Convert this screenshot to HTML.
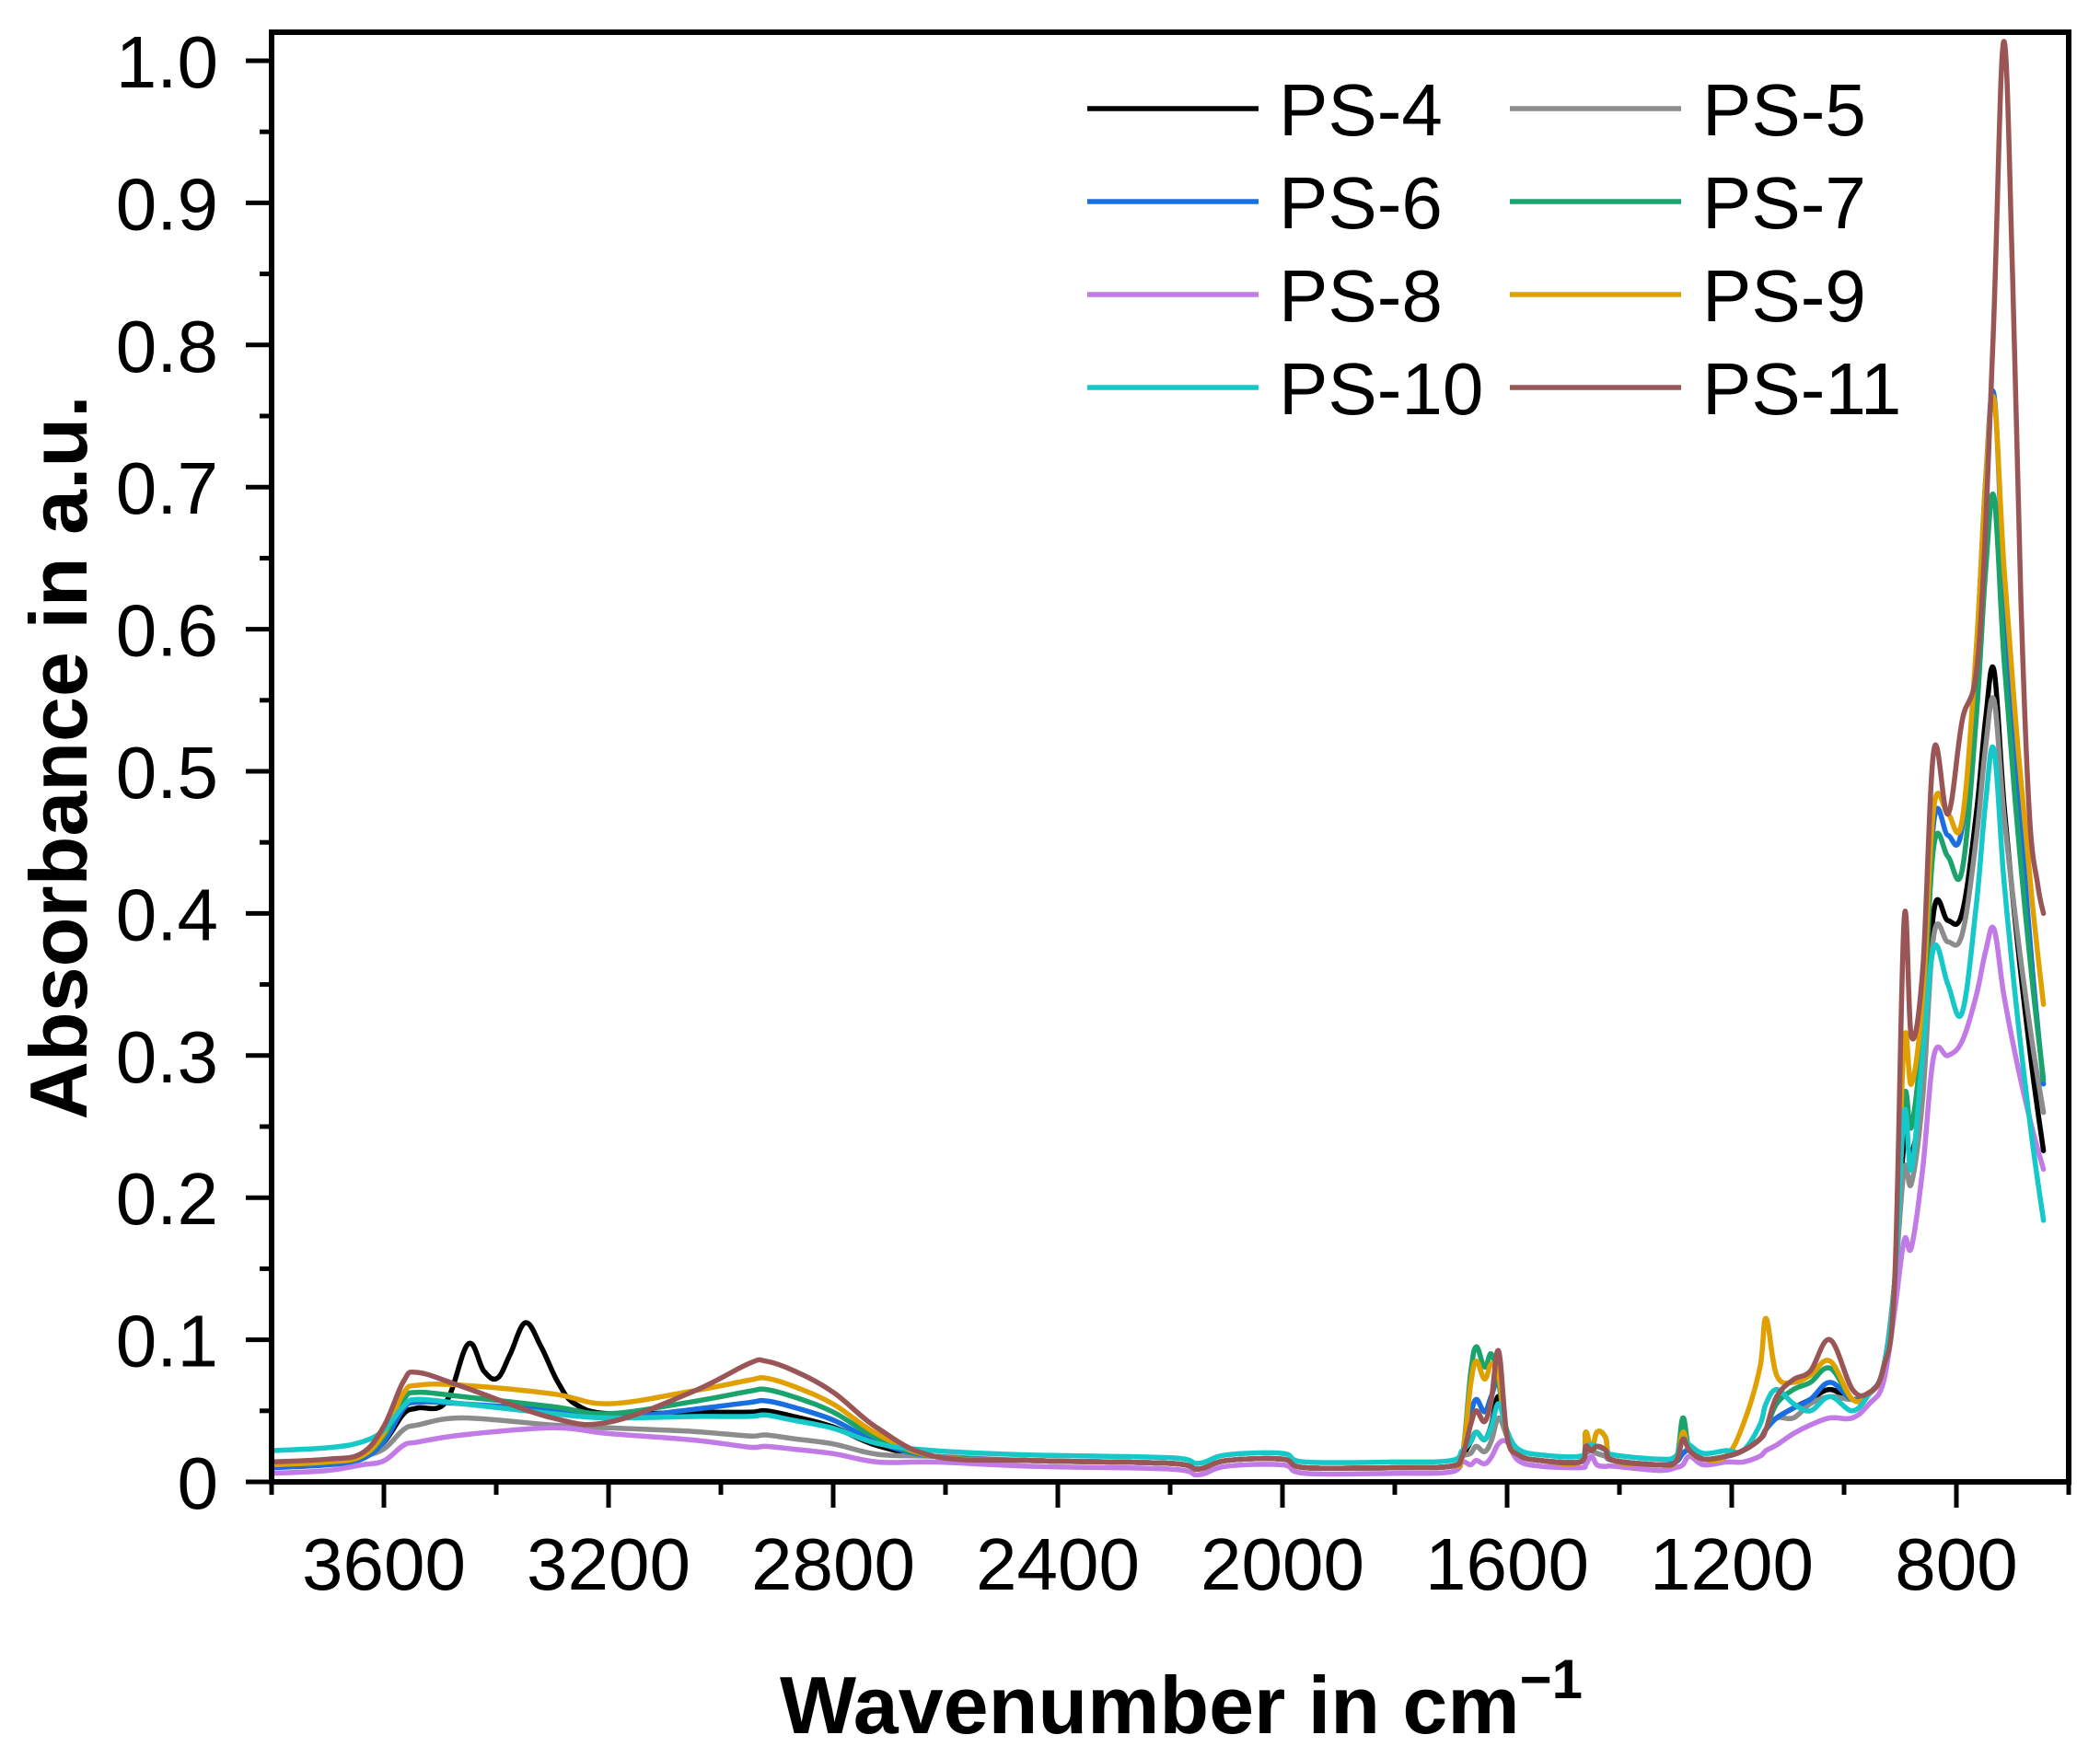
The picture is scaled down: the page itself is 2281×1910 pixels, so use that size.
<!DOCTYPE html>
<html><head><meta charset="utf-8"><style>
html,body{margin:0;padding:0;background:#fff;}
svg{display:block;}
text{font-family:"Liberation Sans",Arial,sans-serif;fill:#000;}
</style></head><body>
<svg id="c" width="2281" height="1910" viewBox="0 0 2281 1910" xmlns="http://www.w3.org/2000/svg">
<defs><clipPath id="pa"><rect x="295" y="35" width="1952" height="1575"/></clipPath></defs>
<g id="series" clip-path="url(#pa)" fill="none" stroke-width="5.5" stroke-linejoin="round" stroke-linecap="round"></g>
<g stroke="#000" stroke-width="6" fill="none">
<path d="M295 35 H2247 V1610 H295 Z"/>
</g>
<g id="ticks" stroke="#000" stroke-width="5"></g>
<g id="labels" font-size="80"></g>
<text x="1283" y="1883" font-size="88" font-weight="bold" text-anchor="middle">Wavenumber in cm<tspan font-size="60" dy="-38">−1</tspan></text>
<text transform="translate(94,823) rotate(-90)" font-size="88" font-weight="bold" text-anchor="middle">Absorbance in a.u.</text>
<g id="legend" font-size="80"></g>
</svg>
<script>
const NS="http://www.w3.org/2000/svg";
const X=v=>295+(3800-v)*0.61, Y=a=>1610-a*1544;
function el(t,a,p,txt){const e=document.createElementNS(NS,t);for(const k in a)e.setAttribute(k,a[k]);if(txt!==undefined)e.textContent=txt;p.appendChild(e);return e;}
const tk=document.getElementById('ticks'),lb=document.getElementById('labels');
for(let v=3800;v>=600;v-=200){const x=X(v);const maj=(v%400===0);el('line',{x1:x,y1:1610,x2:x,y2:1610+(maj?28:14)},tk);
 if(maj&&v<3800)el('text',{x:x,y:1727,'text-anchor':'middle'},lb,String(v));}
for(let i=0;i<=20;i++){const a=i*0.05;const y=Y(a);const maj=i%2===0;el('line',{x1:295,y1:y,x2:295-(maj?28:13),y2:y},tk);
 if(maj)el('text',{x:237,y:y+29,'text-anchor':'end'},lb,i===0?'0':(a).toFixed(1));}
const D={b:.012,mid:.012,oh:.055,oh3:.055,oh4:.05,oh2:.045,ch:.05,p1650:.03,p1615:.05,p1460:.02,p1260:.02,a1180:.022,a1150:.03,p1130:.037,a1120:.045,a1090:.052,a1060:.058,p1020:.065,d980:.058,d950:.062,d930:.08,d910:.14,sp:.27,dp:.24,a860:.3,p833:.42,p815:.41,p790:.42,pk:.65,end:.28};
function S(p){const o=Object.assign({},D,p),m=o.mid;
let pts=[[3800,o.b],[3700,o.b+.002],[3640,o.b+.006],[3600,o.b+(o.oh-o.b)*.4],[3565,o.oh*.92],[3540,o.oh],[3460,o.oh3],[3300,o.oh4],[3200,o.oh2],[3050,(o.oh2+o.ch)/2],[2950,o.ch*.98],[2920,o.ch],[2870,o.ch*.92],[2800,o.ch*.7+m*.3],[2720,m+(o.ch-m)*.35],[2620,m+.006],[2450,m+.003],[2200,m+.001],[2150,m-.003],[2100,m+.003],[2000,m+.004],[1960,m-.002],[1800,m-.002],[1700,m-.001],[1680,m+.006],[1665,o.p1650*.8],[1655,o.p1650],[1640,o.p1650*.85],[1628,o.p1650*.8+o.p1615*.2],[1615,o.p1615],[1600,m+.02],[1580,m+.007],[1540,m+.003],[1470,m+.002],[1460,o.p1460],[1450,m+.01],[1440,o.p1460],[1425,o.p1460*.9],[1410,m+.003],[1330,m],[1300,m+.002],[1287,o.p1260],[1275,m+.01],[1250,m+.004],[1210,m+.006],[1180,o.a1180],[1150,o.a1150],[1139,o.p1130],[1120,o.a1120],[1090,o.a1090],[1060,o.a1060],[1025,o.p1020],[985,o.d980],[955,o.d950],[930,o.d930],[910,o.d910],[893,o.sp],[880,o.dp],[860,o.a860],[840,o.p833],[815,o.p815],[790,o.p790]];
if(o.tail){pts=pts.concat(o.tail);}else{
 pts=pts.concat([[765,o.p790+(o.pk-o.p790)*.4],[748,o.p790+(o.pk-o.p790)*.8],[733,o.pk],[715,o.end+(o.pk-o.end)*.72],[690,o.end+(o.pk-o.end)*.42],[665,o.end+(o.pk-o.end)*.17],[645,o.end]]);}
if(o.ins){const lo=o.ins[o.ins.length-1][0],hi=o.ins[0][0];pts=pts.filter(q=>q[0]>hi||q[0]<lo).concat(o.ins);pts.sort((a,b)=>b[0]-a[0]);}
return pts;}
function path(pts){const P=pts.map(q=>[X(q[0]),Y(q[1])]);let d='M'+P[0][0].toFixed(1)+' '+P[0][1].toFixed(1);
for(let i=0;i<P.length-1;i++){const p0=P[Math.max(0,i-1)],p1=P[i],p2=P[i+1],p3=P[Math.min(P.length-1,i+2)];
 const t=0.18;const c1=[p1[0]+(p2[0]-p0[0])*t,p1[1]+(p2[1]-p0[1])*t],c2=[p2[0]-(p3[0]-p1[0])*t,p2[1]-(p3[1]-p1[1])*t];
 d+=' C'+c1.map(v=>v.toFixed(1)).join(' ')+' '+c2.map(v=>v.toFixed(1)).join(' ')+' '+p2.map(v=>v.toFixed(1)).join(' ');}
return d;}
const series=[
['PS-4','#000000',{oh:.052,oh2:.048,ch:.05,p1650:.035,p1615:.06,sp:.24,dp:.23,a860:.28,p833:.402,p815:.395,p790:.40,pk:.571,end:.233,
 ins:[[3490,.056],[3450,.097],[3422,.078],[3398,.073],[3375,.09],[3348,.112],[3320,.095],[3290,.07],[3260,.055]]}],
['PS-5','#8c8c8c',{oh:.04,oh3:.045,oh4:.04,oh2:.038,ch:.033,p1650:.025,p1615:.045,a1090:.045,a1060:.055,p1020:.06,sp:.22,dp:.21,a860:.27,p833:.385,p815:.38,p790:.385,pk:.55,end:.26}],
['PS-6','#1a6fe0',{b:.01,oh:.056,oh3:.055,oh4:.05,oh2:.045,ch:.057,p1650:.058,p1615:.07,p1460:.025,p1020:.07,sp:.27,dp:.25,a860:.32,p833:.465,p815:.455,p790:.46,pk:.765,end:.28}],
['PS-7','#1aa36a',{oh:.063,oh3:.06,oh4:.053,oh2:.048,ch:.065,p1650:.095,p1615:.07,p1460:.035,p1260:.045,a1120:.055,a1090:.065,a1060:.07,p1020:.08,sp:.27,dp:.25,a860:.32,p833:.448,p815:.44,p790:.43,pk:.693,end:.283}],
['PS-8','#c17ae6',{b:.006,mid:.008,oh:.028,oh3:.033,oh4:.038,oh2:.034,ch:.025,p1650:.015,p1615:.027,p1460:.012,p1260:.012,a1180:.014,a1150:.018,p1130:.022,a1120:.026,a1090:.034,a1060:.04,p1020:.045,d980:.045,d950:.055,d930:.07,d910:.12,sp:.17,dp:.165,a860:.22,p833:.30,p815:.30,p790:.31,pk:.389,end:.22}],
['PS-9','#e0a000',{oh:.068,oh3:.068,oh4:.062,oh2:.055,ch:.073,p1650:.085,p1615:.075,p1460:.035,p1260:.035,a1180:.04,a1150:.08,p1130:.115,a1120:.075,a1090:.07,a1060:.075,p1020:.085,sp:.31,dp:.28,a860:.34,p833:.475,p815:.47,p790:.465,pk:.762,end:.336}],
['PS-10','#17c8c8',{b:.022,mid:.016,oh:.058,oh3:.055,oh4:.048,oh2:.045,ch:.047,p1650:.035,p1615:.055,p1460:.025,p1260:.03,a1150:.04,p1130:.055,a1120:.065,a1090:.055,a1060:.05,p1020:.06,d980:.05,sp:.26,dp:.22,a860:.3,p833:.376,p815:.35,p790:.33,pk:.515,end:.184}],
['PS-11','#9a5656',{b:.014,oh:.077,oh3:.067,oh4:.045,oh2:.042,ch:.085,p1650:.05,p1615:.092,p1460:.025,p1260:.03,a1120:.06,a1090:.072,a1060:.078,p1020:.1,d980:.065,d950:.063,sp:.396,dp:.313,a860:.36,p833:.515,p815:.47,p790:.535,
 tail:[[760,.587],[735,.8],[716,1.013],[700,.85],[685,.62],[670,.47],[655,.42],[645,.40]]}]
];
const g=document.getElementById('series'),lg=document.getElementById('legend');
series.forEach((s,i)=>{el('path',{d:path(S(s[2])),stroke:s[1]},g);
 const col=i%2,row=Math.floor(i/2);const y=118+row*101;const x0=col?1640:1181;
 el('line',{x1:x0,y1:y,x2:x0+186,y2:y,stroke:s[1],'stroke-width':5.5},lg);
 el('text',{x:col?1849:1389,y:y+29},lg,s[0]);});
</script>
</body></html>
